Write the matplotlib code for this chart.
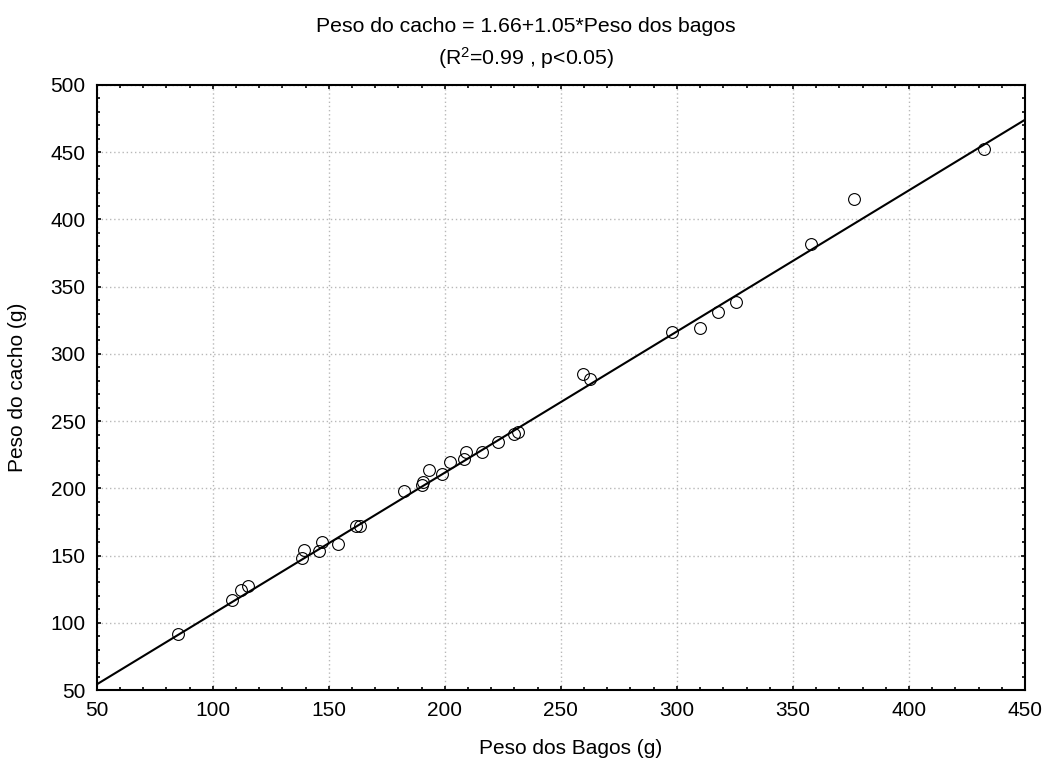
import matplotlib
matplotlib.use("Agg")
import matplotlib.pyplot as plt
from matplotlib.ticker import MultipleLocator
import numpy as np

plt.rcParams['font.family'] = ['Liberation Sans', 'DejaVu Sans']

# Data
peso_bagos = [84.9, 108.2, 112.2, 115.1, 138.3, 139.3, 145.9, 146.9, 153.8, 161.7, 163.4,
              182.4, 190.0, 190.5, 193.3, 198.8, 202.2, 208.4, 209.0, 215.9, 222.8, 229.9, 231.6,
              259.7, 262.5, 298.0, 310.0, 317.6, 325.4, 358.0, 376.2, 432.3]
peso_cacho = [91.4, 116.9, 124.4, 127.3, 148.0, 154.1, 153.4, 160.3, 158.6, 171.9, 171.9,
              198.2, 202.5, 205.0, 213.6, 210.4, 219.4, 221.8, 227.0, 227.0, 234.5, 240.2, 241.7,
              285.0, 281.5, 316.0, 319.0, 330.9, 338.4, 381.7, 415.5, 452.6]
intercept = 1.66
slope = 1.05
x_range = [50, 450]
y_range = [50, 500]
title_line1 = "Peso do cacho = 1.66+1.05*Peso dos bagos"
title_line2 = "(R$^{2}$=0.99 , p<0.05)"
xlabel = "Peso dos Bagos (g)"
ylabel = "Peso do cacho (g)"

plt.rcParams['mathtext.fontset'] = 'custom'
plt.rcParams['mathtext.rm'] = 'Liberation Sans'
plt.rcParams['mathtext.it'] = 'Liberation Sans'
plt.rcParams['mathtext.default'] = 'regular'

fig = plt.figure(figsize=(10.46, 7.71), dpi=100)
ax = fig.add_axes([96.7/1046, 1-690/771, (1025-96.7)/1046, (690-85)/771])

xs = np.array(x_range, dtype=float)
ax.plot(xs, intercept + slope*xs, color='black', lw=1.5, zorder=2)
ax.plot(peso_bagos, peso_cacho, linestyle='none', marker='o', markersize=8.5,
        markerfacecolor='none', markeredgecolor='black', markeredgewidth=0.8, zorder=3)

ax.set_xlim(*x_range)
ax.set_ylim(*y_range)
ax.xaxis.set_major_locator(MultipleLocator(50))
ax.yaxis.set_major_locator(MultipleLocator(50))
ax.xaxis.set_minor_locator(MultipleLocator(10))
ax.yaxis.set_minor_locator(MultipleLocator(10))
ax.tick_params(which='both', direction='in', top=True, right=True, width=1.2, labelsize=15)
ax.tick_params(which='major', length=3, pad=8)
ax.tick_params(which='minor', length=2.5)
ax.grid(True, which='major', linestyle=(0, (1, 2)), color='#b8b8b8', lw=1.0)
for s in ax.spines.values():
    s.set_linewidth(1.5)

fig.text(526/1046, 1-27/771, title_line1, ha='center', va='center', fontsize=15.3)
fig.text(526/1046, 1-58/771, title_line2, ha='center', va='center', fontsize=15.3)
fig.text(571/1046, 1-749/771, xlabel, ha='center', va='center', fontsize=15)
fig.text(18/1046, 1-387/771, ylabel, ha='center', va='center', rotation=90, fontsize=15)

fig.savefig("out.png", dpi=100)
